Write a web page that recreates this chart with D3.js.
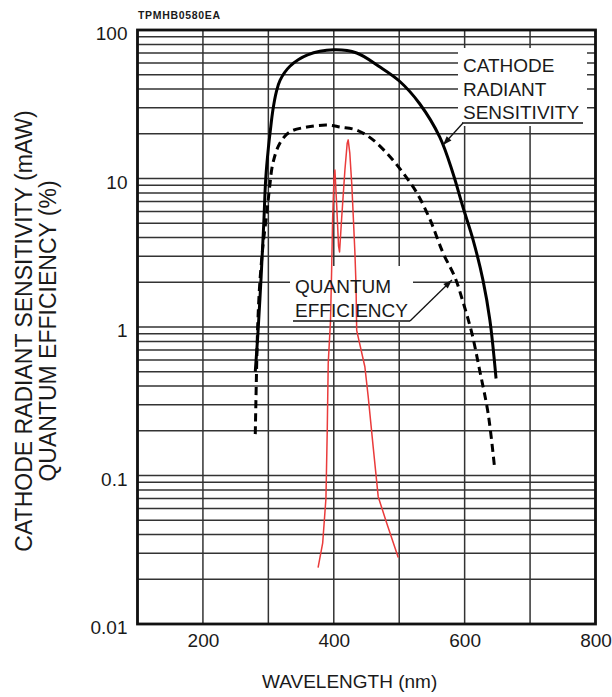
<!DOCTYPE html>
<html>
<head>
<meta charset="utf-8">
<script src="https://cdn.jsdelivr.net/npm/d3@7"></script>
<style>
  html, body { margin: 0; padding: 0; background: #fff; }
  svg { display: block; }
  text { font-family: "Liberation Sans", Arial, Helvetica, sans-serif; fill: #1a1a1a; }
</style>
</head>
<body>
<svg id="chart" width="612" height="697"></svg>
<script>
// ---- data ----
const xTickValues = [200, 400, 600, 800];
const xTickLabels = ["200", "400", "600", "800"];
const yTickValues = [0.01, 0.1, 1, 10, 100];
const yTickLabels = ["0.01", "0.1", "1", "10", "100"];

// Cathode radiant sensitivity (mA/W) - solid line
const cathodeWavelength = [280, 284, 289, 293, 296, 300, 303, 307, 312, 318, 333, 360, 400, 435, 470, 501, 531, 562, 582, 597.5, 613, 628, 638.6, 648];
const cathodeSensitivity = [0.5, 0.9, 2.2, 5, 10, 16, 21, 29, 38, 46, 57, 68, 73.5, 70, 56.5, 45, 32, 19, 10.9, 6.4, 3.85, 2.07, 1.11, 0.45];

// Quantum efficiency (%) - dashed line
const qeWavelength = [280, 282.5, 284, 287, 291.7, 297.7, 302, 307, 317.6, 333, 359, 390, 410, 435, 460, 486, 506, 527, 547, 567, 585, 598, 611, 623, 636, 646];
const qeValue = [0.19, 0.65, 1.1, 2.0, 3.5, 5.9, 8.8, 12.7, 17.3, 20.6, 22.2, 22.9, 22.2, 21.2, 18.2, 14, 10.9, 8.0, 5.3, 3.15, 2.17, 1.45, 0.91, 0.51, 0.26, 0.11];

// Emission spectrum (red, thin)
const emWavelength = [376, 383, 388, 390, 391.5, 395, 396.7, 398.2, 400.2, 401.7, 404.3, 407.3, 408.8, 411.9, 417, 420.5, 422, 424.5, 427.7, 430, 432.3, 434, 435, 447.5, 452.6, 460.2, 467.9, 480.7, 498.5];
const emValue = [0.024, 0.035, 0.07, 0.2, 0.57, 1.1, 2.4, 5.3, 9.8, 11.4, 6.8, 3.5, 3.2, 5.3, 11.4, 17.3, 18.2, 14.8, 8.8, 5.3, 3.15, 1.9, 0.95, 0.54, 0.34, 0.156, 0.072, 0.048, 0.028];

const docCode = "TPMHB0580EA";
const xTitle = "WAVELENGTH (nm)";
const yTitleLines = ["CATHODE RADIANT SENSITIVITY (mAW)", "QUANTUM EFFICIENCY (%)"];
const cathodeLabel = ["CATHODE", "RADIANT", "SENSITIVITY"];
const qeLabel = ["QUANTUM", "EFFICIENCY"];

// ---- layout ----
const svg = d3.select("#chart");
const L = 137.5, R = 595.5, T = 30, B = 624;
const x = d3.scaleLinear().domain([100, 800]).range([L, R]);
const y = d3.scaleLog().domain([0.01, 100]).range([B, T]);

svg.append("rect").attr("width", 612).attr("height", 697).attr("fill", "#fff");

// grid
const gridX = d3.range(100, 801, 100);
const gridY = [];
[0.01, 0.1, 1, 10].forEach(d => { for (let k = 1; k <= 9; k++) gridY.push(+(k * d).toPrecision(3)); });
gridY.push(100);

const g = svg.append("g");
g.selectAll("line.gx").data(gridX).join("line")
  .attr("x1", d => x(d)).attr("x2", d => x(d)).attr("y1", T).attr("y2", B)
  .attr("stroke", "#333").attr("stroke-width", 1.5);
g.selectAll("line.gy").data(gridY).join("line")
  .attr("x1", L).attr("x2", R).attr("y1", d => y(d)).attr("y2", d => y(d))
  .attr("stroke", "#333").attr("stroke-width", 1.5);

// white masks for annotation labels
svg.append("rect").attr("x", 458).attr("y", 48).attr("width", 129).attr("height", 78).attr("fill", "#fff");
svg.append("rect").attr("x", 290).attr("y", 266).attr("width", 123).attr("height", 56).attr("fill", "#fff");

// frame
svg.append("rect").attr("x", L).attr("y", T).attr("width", R - L).attr("height", B - T)
  .attr("fill", "none").attr("stroke", "#111").attr("stroke-width", 2.8);

// axes
const yAxis = d3.axisLeft(y).tickValues(yTickValues).tickFormat((d, i) => yTickLabels[i]).tickSize(0).tickPadding(10);
const ya = svg.append("g").attr("transform", `translate(${L},0)`).call(yAxis);
ya.select(".domain").remove();
ya.selectAll("text").attr("font-size", 19).attr("dy", "0.5em").style("font-family", "Liberation Sans, Arial, sans-serif").attr("fill", "#1a1a1a");

const xAxis = d3.axisBottom(x).tickValues(xTickValues).tickFormat((d, i) => xTickLabels[i]).tickSize(0).tickPadding(9.5);
const xa = svg.append("g").attr("transform", `translate(0,${B})`).call(xAxis);
xa.select(".domain").remove();
xa.selectAll("text").attr("font-size", 19).style("font-family", "Liberation Sans, Arial, sans-serif").attr("fill", "#1a1a1a");

// titles
svg.append("text").attr("x", 262).attr("y", 688).attr("font-size", 19).text(xTitle);
svg.append("text").attr("transform", "translate(32,331) rotate(-90)").attr("text-anchor", "middle").attr("font-size", 23).text(yTitleLines[0]);
svg.append("text").attr("transform", "translate(56,331) rotate(-90)").attr("text-anchor", "middle").attr("font-size", 23).text(yTitleLines[1]);
svg.append("text").attr("x", 138).attr("y", 19).attr("font-size", 10.5).attr("font-weight", 600).attr("textLength", 82).text(docCode);

// curves
const lineOf = (xs, ys, curve) => d3.line().x((d, i) => x(xs[i])).y((d, i) => y(ys[i])).curve(curve)(xs);

svg.append("path").attr("d", lineOf(emWavelength, emValue, d3.curveLinear))
  .attr("fill", "none").attr("stroke", "#ea3b3b").attr("stroke-width", 1.5).attr("stroke-linejoin", "round");
svg.append("path").attr("d", lineOf(qeWavelength, qeValue, d3.curveCatmullRom.alpha(0.5)))
  .attr("fill", "none").attr("stroke", "#000").attr("stroke-width", 3).attr("stroke-dasharray", "8,5");
svg.append("path").attr("d", lineOf(cathodeWavelength, cathodeSensitivity, d3.curveCatmullRom.alpha(0.5)))
  .attr("fill", "none").attr("stroke", "#000").attr("stroke-width", 3);

// annotation labels
cathodeLabel.forEach((t, i) => {
  svg.append("text").attr("x", 463).attr("y", 71.7 + i * 23.8).attr("font-size", 19).text(t);
});
qeLabel.forEach((t, i) => {
  svg.append("text").attr("x", 295).attr("y", 293.3 + i * 23.4).attr("font-size", 19).text(t);
});

// leader lines with arrowheads
function arrow(x0, y0, x1, y1) {
  svg.append("line").attr("x1", x0).attr("y1", y0).attr("x2", x1).attr("y2", y1)
    .attr("stroke", "#111").attr("stroke-width", 1.3);
  const ang = Math.atan2(y1 - y0, x1 - x0);
  const len = 9, w = 3.2;
  const bx = x1 - len * Math.cos(ang), by = y1 - len * Math.sin(ang);
  const px = -Math.sin(ang) * w, py = Math.cos(ang) * w;
  svg.append("path").attr("d", `M${x1},${y1}L${bx + px},${by + py}L${bx - px},${by - py}Z`).attr("fill", "#111");
}
svg.append("line").attr("x1", 462).attr("x2", 583).attr("y1", 123).attr("y2", 123).attr("stroke", "#111").attr("stroke-width", 1.3);
arrow(463, 123, 443, 145);
svg.append("line").attr("x1", 293).attr("x2", 410).attr("y1", 321).attr("y2", 321).attr("stroke", "#111").attr("stroke-width", 1.3);
arrow(410, 321, 452, 280);
</script>
</body>
</html>
